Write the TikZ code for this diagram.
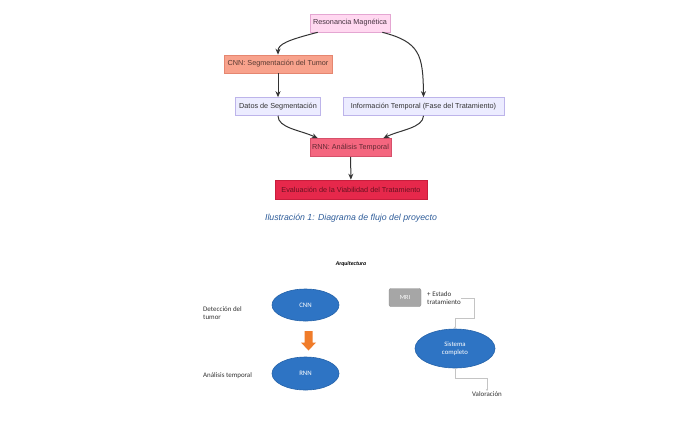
\documentclass[tikz,border=0pt]{standalone}
\usepackage{fontspec}
\setmainfont{Liberation Sans}
\newfontfamily\calibri{Carlito}
\usetikzlibrary{shapes.geometric}
\usetikzlibrary{arrows.meta}

\definecolor{rosa}{HTML}{FFD8F0}
\definecolor{rosaborde}{HTML}{E4A6D2}
\definecolor{salmon}{HTML}{F8A28C}
\definecolor{salmonborde}{HTML}{E58670}
\definecolor{lavanda}{HTML}{ECECFF}
\definecolor{lavandaborde}{HTML}{BDB4EA}
\definecolor{fresa}{HTML}{F4667F}
\definecolor{fresaborde}{HTML}{D6506A}
\definecolor{carmin}{HTML}{E6284B}
\definecolor{carminborde}{HTML}{C81D3C}
\definecolor{flechagris}{HTML}{333333}
\definecolor{titulo}{HTML}{2F5D9A}
\definecolor{azul}{HTML}{2E74C4}
\definecolor{azulborde}{HTML}{2462A9}
\definecolor{naranja}{HTML}{F07C2A}
\definecolor{gris}{HTML}{A6A6A6}
\definecolor{lineagris}{HTML}{C4C4C4}

\begin{document}
\begin{tikzpicture}[x=1bp, y=-1bp,
    caja/.style={draw, rectangle, minimum height=18bp, inner sep=0pt, line width=0.6bp, font=\fontsize{7.3}{8}\selectfont},
    flujo/.style={-{Stealth[length=6bp, width=5bp]}, line width=1bp, draw=flechagris},
    elipse/.style={ellipse, draw=azulborde, fill=azul, line width=0.6bp, inner sep=0pt, text=white, font=\calibri\fontsize{6.8}{7.8}\selectfont, align=center},
    texto/.style={inner sep=0pt, font=\calibri\fontsize{7}{8.2}\selectfont, align=left, text=black!80},
    conector/.style={-{Stealth[length=2bp, width=2bp]}, line width=0.6bp, draw=lineagris}]

    \fill[white] (0,0) rectangle (700,427);
    \useasboundingbox (0,0) rectangle (700,427);

    % diagrama de flujo
    \node[caja, fill=rosa, draw=rosaborde, text=black!70!rosaborde, minimum width=80bp] (rm) at (350,23) {Resonancia Magnética};
    \node[caja, fill=salmon, draw=salmonborde, text=black!65!salmon, minimum width=108bp] (cnn) at (278,64) {CNN: Segmentación del Tumor};
    \node[caja, fill=lavanda, draw=lavandaborde, text=black!80, minimum width=85bp] (datos) at (278,106.5) {Datos de Segmentación};
    \node[caja, fill=lavanda, draw=lavandaborde, text=black!80, minimum width=161bp] (info) at (423.5,106.5) {Información Temporal (Fase del Tratamiento)};
    \node[caja, fill=fresa, draw=fresaborde, text=black!60!fresa, minimum width=81bp] (rnn) at (350.5,147.5) {RNN: Análisis Temporal};
    \node[caja, fill=carmin, draw=carminborde, text=black!55!carmin, minimum width=152bp, minimum height=19bp] (eval) at (351,189.5) {Evaluación de la Viabilidad del Tratamiento};

    \node[inner sep=0pt, text=titulo, font=\itshape\fontsize{8.8}{10}\selectfont] (pie) at (351,218) {Ilustración 1: Diagrama de flujo del proyecto};

    \draw[flujo] ([xshift=8bp]rm.south west) .. controls (288,40) and (278,44) .. (cnn.north);
    \draw[flujo] ([xshift=-8bp]rm.south east) .. controls (420,42) and (423,55) .. (info.north);
    \draw[flujo] (cnn) -- (datos);
    \draw[flujo] (datos.south) .. controls (278,128) and (300,130) .. ([xshift=8bp]rnn.north west);
    \draw[flujo] (info.south) .. controls (423,128) and (400,130) .. ([xshift=-8bp]rnn.north east);
    \draw[flujo] (rnn) -- (eval);

    % arquitectura
    \node[inner sep=0pt, font=\calibri\bfseries\itshape\fontsize{5.8}{6.5}\selectfont] (arq) at (351,264) {Arquitectura};

    \node[elipse, minimum width=67bp, minimum height=32bp] (ecnn) at (305.5,305) {CNN};
    \node[elipse, minimum width=67bp, minimum height=33bp] (ernn) at (305.5,373.5) {RNN};
    \fill[naranja] (304.5,331) -- (312.5,331) -- (312.5,342.5) -- (316,342.5) -- (308.5,350.5) -- (301,342.5) -- (304.5,342.5) -- cycle;

    \node[texto, anchor=west] (deteccion) at (203,313) {Detección del\\tumor};
    \node[texto, anchor=west] (analisis) at (203,376) {Análisis temporal};

    \node[draw=gris!85!black, fill=gris, rounded corners=2bp, minimum width=32bp, minimum height=18bp, inner sep=0pt, text=white, font=\calibri\fontsize{6.3}{7}\selectfont, line width=0.4bp] (mri) at (405,297.5) {MRI};
    \node[texto, anchor=west] (estado) at (427,298.5) {+ Estado\\tratamiento};
    \node[elipse, minimum width=80bp, minimum height=39bp] (sistema) at (455,348.5) {Sistema\\completo};
    \node[texto, anchor=north] (valoracion) at (487,391) {Valoración};

    \coordinate (codo) at (474,318);
    \coordinate (codob) at (487,378);
    \draw[conector] (estado.east) -| (codo) -| (sistema.north);
    \draw[conector] (sistema.south) |- (codob) -- (valoracion.north);
\end{tikzpicture}
\end{document}
